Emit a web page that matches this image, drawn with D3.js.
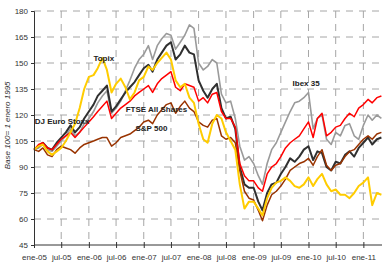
<!DOCTYPE html>
<html>
<head>
<meta charset="utf-8">
<script src="https://cdn.jsdelivr.net/npm/d3@7"></script>
<style>
  body { margin: 0; background: #fff; }
  svg { font-family: "Liberation Sans", Arial, sans-serif; }
  .grid line { stroke: #a6a6a6; stroke-width: 1; stroke-dasharray: 7,6; }
  .axis path, .axis line { stroke: #333; }
  .axis text { fill: #333; font-size: 8px; }
  .line { fill: none; stroke-linejoin: round; }
  .label { font-size: 8px; font-weight: bold; fill: #222; }
</style>
</head>
<body>
<div id="chart"></div>
<script>
// monthly values from ene-05, base 100
const ibex = [100,101,103,100,99,102,105,108,112,108,110,115,118,122,127,131,134,121,124,128,134,140,147,152,155,160,152,160,164,167,166,158,162,166,172,170,150,146,148,152,150,132,127,128,118,102,94,96,92,85,80,92,100,104,110,116,122,127,128,130,133,112,118,120,106,103,110,108,114,115,108,106,114,120,117,120,118]
const euroStoxx = [100,102,104,101,100,104,107,110,114,110,113,118,122,126,131,134,137,122,125,129,133,136,139,143,147,149,145,152,156,160,162,152,155,160,156,155,140,134,130,135,138,124,118,119,112,90,80,78,78,70,65,75,80,81,86,90,95,93,96,100,102,94,99,98,90,88,93,92,97,99,96,101,104,107,103,106,107]
const sp500 = [100,99,101,97,96,100,102,101,100,98,101,103,104,105,106,107,107,102,104,107,108,109,111,113,116,117,115,120,123,126,127,121,125,128,124,122,116,114,113,117,118,108,106,107,104,88,76,72,71,65,59,68,74,76,79,83,88,90,92,93,95,91,96,100,91,88,91,92,96,99,100,103,106,108,106,109,110]
const ftse = [100,103,104,101,100,103,106,108,110,107,110,113,116,119,122,125,128,118,121,124,126,128,131,133,135,137,133,138,141,143,145,136,134,138,137,136,128,130,127,132,133,122,118,118,113,92,85,82,82,78,76,86,90,92,96,101,104,106,108,112,116,107,118,121,108,110,113,114,118,121,119,124,126,129,127,130,131]
const topix = [100,102,103,99,97,99,101,105,110,115,124,135,142,143,147,153,146,133,138,141,136,129,133,140,142,148,146,150,153,156,152,140,136,138,130,127,115,106,104,115,120,118,110,105,100,80,66,70,70,66,62,72,78,81,82,84,82,79,78,80,84,79,83,86,80,76,77,74,74,72,75,79,81,84,68,75,74]

const seriesNames = ['Ibex 35', 'DJ Euro Stoxx', 'S&P 500', 'FTSE All Shares', 'Topix']
const seriesValues = [ibex, euroStoxx, sp500, ftse, topix]
const seriesColors = ['#9a9a9a', '#303030', '#993300', '#ff0000', '#ffcc00']
const seriesWidths = [1.6, 2, 1.5, 1.5, 2]

const xTickLabels = ['ene-05','jul-05','ene-06','jul-06','ene-07','jul-07','ene-08','jul-08','ene-09','jul-09','ene-10','jul-10','ene-11']
const yTicks = [45, 60, 75, 90, 105, 120, 135, 150, 165, 180]

// label anchor: [days after ene-05, value] for each series label
const labelPos = {
  'Topix': [395, 151],
  'DJ Euro Stoxx': [5, 115],
  'FTSE All Shares': [610, 122],
  'S&P 500': [675, 111],
  'Ibex 35': [1720, 136.5]
}

const width = 382, height = 265
const start = new Date(2005, 0, 1)
const months = d3.range(ibex.length).map(i => d3.timeMonth.offset(start, i))
const xTicks = d3.range(xTickLabels.length).map(i => d3.timeMonth.offset(start, i * 6))

const xScale = d3.scaleTime()
    .domain([start, new Date(2011, 4, 5)])
    .range([34, 382])
const yScale = d3.scaleLinear()
    .domain([45, 180])
    .range([245, 11])

const svg = d3.select('#chart').append('svg')
    .attr('width', width)
    .attr('height', height)

// grid
const grid = svg.append('g').attr('class', 'grid')
grid.selectAll('.h')
  .data(yTicks.slice(1))
  .enter().append('line')
    .attr('x1', 34).attr('x2', 382)
    .attr('y1', d => yScale(d)).attr('y2', d => yScale(d))
grid.selectAll('.v')
  .data(xTicks.slice(1))
  .enter().append('line')
    .attr('x1', d => xScale(d)).attr('x2', d => xScale(d))
    .attr('y1', 11).attr('y2', 245)

// lines
const line = d3.line()
    .x((d, i) => xScale(months[i]))
    .y(d => yScale(d))

svg.append('g').selectAll('path')
  .data(seriesValues)
  .enter().append('path')
    .attr('class', 'line')
    .attr('stroke', (_, i) => seriesColors[i])
    .attr('stroke-width', (_, i) => seriesWidths[i])
    .attr('d', d => line(d))

// axes
const xAxis = svg.append('g')
    .attr('class', 'axis')
    .attr('transform', 'translate(0,245)')
    .call(d3.axisBottom(xScale)
      .tickValues(xTicks)
      .tickSize(3)
      .tickPadding(6)
      .tickFormat((d, i) => xTickLabels[i]))
xAxis.select('.domain').attr('d', 'M34,0H382')
xAxis.selectAll('.tick line').attr('y1', -3)

const yAxis = svg.append('g')
    .attr('class', 'axis')
    .attr('transform', 'translate(34,0)')
    .call(d3.axisLeft(yScale)
      .tickValues(yTicks)
      .tickSize(3)
      .tickPadding(3))

svg.append('text')
    .attr('transform', 'translate(10,' + yScale(114) + ') rotate(-90)')
    .attr('text-anchor', 'middle')
    .attr('font-size', '8px')
    .attr('font-style', 'italic')
    .attr('fill', '#333')
    .text('Base 100= 1 enero 1995')

// series labels
svg.append('g').selectAll('text')
  .data(seriesNames)
  .enter().append('text')
    .attr('class', 'label')
    .attr('x', d => xScale(d3.timeDay.offset(start, labelPos[d][0])))
    .attr('y', d => yScale(labelPos[d][1]))
    .text(d => d)
</script>
</body>
</html>
